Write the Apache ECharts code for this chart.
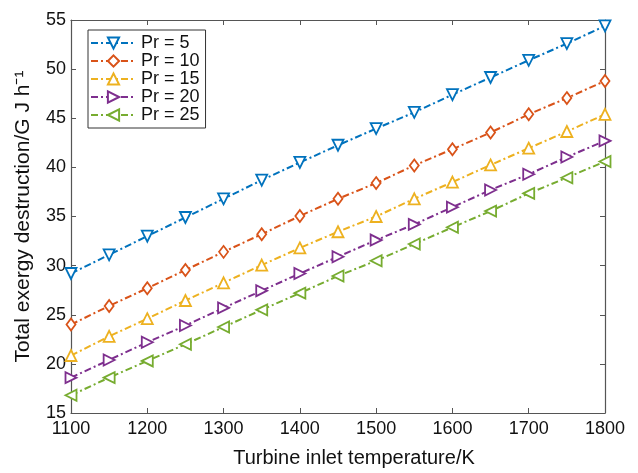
<!DOCTYPE html>
<html>
<head>
<meta charset="utf-8">
<script src="https://cdn.jsdelivr.net/npm/echarts@6/dist/echarts.min.js"></script>
<style>
  html, body { margin: 0; padding: 0; background: #fff; }
  #chart { width: 638px; height: 473px; }
</style>
</head>
<body>
<div id="chart"></div>
<script>
// Turbine inlet temperature (K)
const temperatures = [1100, 1150, 1200, 1250, 1300, 1350, 1400, 1450, 1500, 1550, 1600, 1650, 1700, 1750, 1800];

// Total exergy destruction (GJ/h) for each pressure ratio
const pr5  = [29.2, 31.1, 33.0, 34.9, 36.8, 38.7, 40.5, 42.25, 43.95, 45.6, 47.4, 49.15, 50.9, 52.6, 54.4];
const pr10 = [24.0, 25.9, 27.7, 29.55, 31.4, 33.2, 35.05, 36.8, 38.4, 40.2, 41.85, 43.55, 45.4, 47.05, 48.8];
const pr15 = [20.85, 22.8, 24.6, 26.45, 28.25, 30.05, 31.8, 33.45, 35.0, 36.8, 38.5, 40.25, 41.95, 43.65, 45.4];
const pr20 = [18.6, 20.4, 22.2, 23.9, 25.7, 27.45, 29.2, 30.9, 32.6, 34.2, 35.95, 37.7, 39.3, 41.05, 42.7];
const pr25 = [16.8, 18.6, 20.3, 22.0, 23.75, 25.5, 27.2, 28.95, 30.5, 32.2, 33.9, 35.55, 37.35, 38.95, 40.6];

const seriesNames = ['Pr = 5', 'Pr = 10', 'Pr = 15', 'Pr = 20', 'Pr = 25'];
const xTicks = [1100, 1200, 1300, 1400, 1500, 1600, 1700, 1800];
const yTicks = [15, 20, 25, 30, 35, 40, 45, 50, 55];

const colors = ['#0072BD', '#D95319', '#EDB120', '#7E2F8E', '#77AC30'];
const symbols = [
  { symbol: 'triangle', rotate: 180, size: 11 },
  { symbol: 'diamond', rotate: 0, size: [9, 12] },
  { symbol: 'triangle', rotate: 0, size: 11 },
  { symbol: 'triangle', rotate: -90, size: 11 },
  { symbol: 'triangle', rotate: 90, size: 11 }
];
const datasets = [pr5, pr10, pr15, pr20, pr25];

const FONT = 'Liberation Sans, Arial, Helvetica, sans-serif';
const axisColor = '#555';

const chart = echarts.init(document.getElementById('chart'), null, { renderer: 'canvas' });

const baseAxis = {
  axisLine: { show: true, lineStyle: { color: axisColor, width: 1.2 } },
  axisTick: { show: true, inside: true, length: 5, lineStyle: { color: axisColor, width: 1 } },
  splitLine: { show: false }
};

const option = {
  backgroundColor: '#fff',
  animation: false,
  color: colors,
  grid: { left: 71, right: 33, top: 20, bottom: 57, containLabel: false },
  legend: {
    left: 88,
    top: 30,
    orient: 'vertical',
    data: seriesNames,
    itemWidth: 45,
    itemHeight: 14,
    itemGap: 0,
    padding: [4, 6, 4, 2],
    borderColor: '#333',
    borderWidth: 1,
    backgroundColor: '#fff',
    textStyle: { fontFamily: FONT, fontSize: 18, color: '#111', lineHeight: 17 }
  },
  xAxis: [
    Object.assign({}, baseAxis, {
      type: 'value',
      min: 1100, max: 1800, interval: 100,
      position: 'bottom',
      name: 'Turbine inlet temperature/K',
      nameLocation: 'middle',
      nameGap: 35,
      nameTextStyle: { fontFamily: FONT, fontSize: 20, color: '#111', padding: [0, 0, 0, 32] },
      axisLabel: {
        fontFamily: FONT, fontSize: 18, color: '#111', margin: 7,
        formatter: v => (xTicks.includes(v) ? String(v) : '')
      }
    }),
    Object.assign({}, baseAxis, {
      type: 'value',
      min: 1100, max: 1800, interval: 100,
      position: 'top',
      axisLabel: { show: false }
    })
  ],
  yAxis: [
    Object.assign({}, baseAxis, {
      type: 'value',
      min: 15, max: 55, interval: 5,
      position: 'left',
      name: 'Total exergy destruction/G J h\u207B\u00B9',
      nameLocation: 'middle',
      nameGap: 37,
      nameTextStyle: { fontFamily: FONT, fontSize: 21, color: '#111' },
      axisLabel: {
        fontFamily: FONT, fontSize: 18, color: '#111', margin: 5,
        formatter: v => (yTicks.includes(v) ? String(v) : '')
      }
    }),
    Object.assign({}, baseAxis, {
      type: 'value',
      min: 15, max: 55, interval: 5,
      position: 'right',
      axisLabel: { show: false }
    })
  ],
  series: datasets.map((vals, i) => ({
    name: seriesNames[i],
    type: 'line',
    xAxisIndex: 0,
    yAxisIndex: 0,
    data: temperatures.map((t, k) => [t, vals[k]]),
    symbol: symbols[i].symbol,
    symbolRotate: symbols[i].rotate,
    symbolSize: symbols[i].size,
    showAllSymbol: true,
    lineStyle: { color: colors[i], width: 2, type: [7, 3, 2, 3] },
    itemStyle: { color: '#fff', borderColor: colors[i], borderWidth: 1.8 }
  }))
};

chart.setOption(option);
</script>
</body>
</html>
